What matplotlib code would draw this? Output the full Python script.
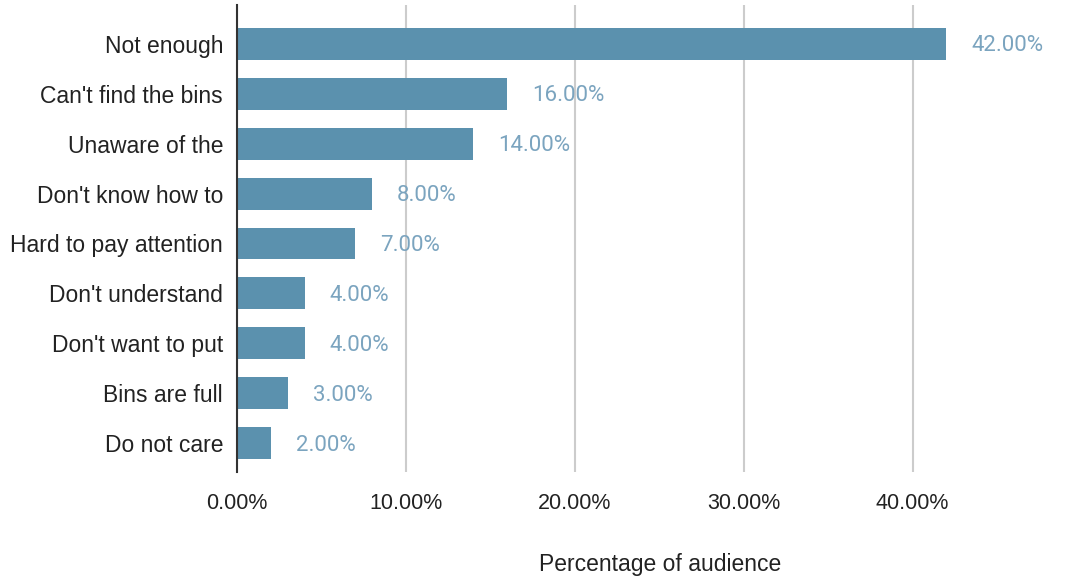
import matplotlib
matplotlib.use("Agg")
import matplotlib.pyplot as plt
from matplotlib.ticker import FuncFormatter

# reasons people give, with share of audience (%)
reasons = ["Not enough", "Can't find the bins", "Unaware of the", "Don't know how to",
           "Hard to pay attention", "Don't understand", "Don't want to put",
           "Bins are full", "Do not care"]
shares = [42, 16, 14, 8, 7, 4, 4, 3, 2]
xticks = [0, 10, 20, 30, 40]

bar_color = "#5b91ae"
label_color = "#7ba4bf"

plt.rcParams['font.family'] = ['Liberation Sans', 'DejaVu Sans']

fig = plt.figure(figsize=(10.74, 5.79), dpi=100)
ax = fig.add_axes([237 / 1074, 1 - 472 / 579, 760 / 1074, 467 / 579])

ypos = list(range(len(reasons)))
ax.barh(ypos, shares, height=0.64, color=bar_color, zorder=3)

for y, v in zip(ypos, shares):
    ax.annotate(f"{v:.2f}%", (v, y), xytext=(25, -2), textcoords="offset pixels",
                va="center", ha="left", fontsize=16, color=label_color,
                family=["Roboto", "DejaVu Sans"])

ax.set_ylim(8.58, -0.78)
ax.set_xlim(0, 45)
ax.set_yticks(ypos)
ax.set_yticklabels(reasons, fontsize=16.5, color="#222222")
ax.set_xticks(xticks)
ax.xaxis.set_major_formatter(FuncFormatter(lambda x, p: f"{x:.2f}%"))
ax.tick_params(axis="x", labelsize=15.5, labelcolor="#222222", length=0, pad=15)
ax.tick_params(axis="y", length=0, pad=10)

ax.grid(axis="x", color="#cccccc", linewidth=1.5, zorder=0)
for side in ["top", "right", "bottom"]:
    ax.spines[side].set_visible(False)
ax.spines["left"].set_color("#333333")
ax.spines["left"].set_linewidth(1.5)
ax.spines["left"].set_zorder(4)

ax.set_xlabel("Percentage of audience", fontsize=16.5, color="#222222")
ax.xaxis.label.set_va("center")
ax.xaxis.set_label_coords((660 - 237) / 760, -(565 - 472) / 467)

fig.savefig("out.png", dpi=100)
